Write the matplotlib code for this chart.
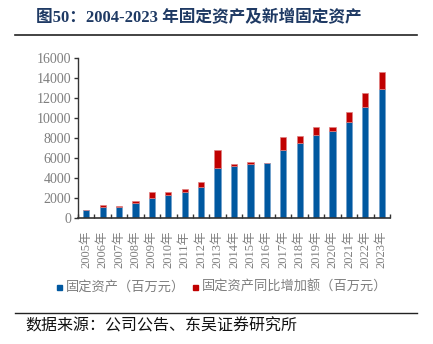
import matplotlib
matplotlib.use("Agg")
import matplotlib.pyplot as plt
from matplotlib.lines import Line2D
from matplotlib.patches import Rectangle

plt.rcParams['font.family'] = ['Liberation Serif', 'Noto Sans CJK SC', 'DejaVu Sans']

years = ['2005年', '2006年', '2007年', '2008年', '2009年', '2010年', '2011年', '2012年',
         '2013年', '2014年', '2015年', '2016年', '2017年', '2018年', '2019年', '2020年',
         '2021年', '2022年', '2023年']
fixed_assets = [850, 1060, 1100, 1500, 2000, 2300, 2560, 3100, 4960, 5160, 5360, 5460,
                6760, 7500, 8300, 8700, 9630, 11060, 12860]
yoy_increase = [0, 200, 150, 230, 630, 300, 300, 530, 1800, 270, 240, 30,
                1300, 660, 800, 360, 930, 1440, 1740]
yticks = [0, 2000, 4000, 6000, 8000, 10000, 12000, 14000, 16000]

blue = '#0058A0'
red = '#C00000'
gray = '#7F7F7F'

fig = plt.figure(figsize=(4.33, 3.44), dpi=100)
ax = fig.add_axes([78/433, 1-218/344, (390-78)/433, (218-58)/344])

x = list(range(len(years)))
ax.bar(x, fixed_assets, width=0.38, color=blue, edgecolor='#6F9FCC', linewidth=0.5)
ax.bar(x, yoy_increase, width=0.38, bottom=fixed_assets, color=red, edgecolor='#E08080', linewidth=0.5)

ax.set_xlim(-0.5, len(years) - 0.5)
ax.set_ylim(0, 16000)
ax.set_yticks(yticks)
ax.set_yticklabels([str(v) for v in yticks], color=gray, fontsize=10)
ax.set_xticks(x)
ax.set_xticklabels(years, rotation=90, color=gray, fontsize=9)
ax.tick_params(axis='x', length=0, pad=9)
ax.set_xticks([i - 0.5 for i in range(len(years) + 1)], minor=True)
ax.tick_params(axis='x', which='minor', direction='in', length=3, width=1, color='#333333')
ax.tick_params(axis='y', direction='out', length=3, width=1, color='#333333', pad=2)
for s in ['top', 'right']:
    ax.spines[s].set_visible(False)
ax.spines['left'].set_color('#333333')
ax.spines['bottom'].set_color('#333333')
ax.spines['left'].set_linewidth(1)
ax.spines['bottom'].set_linewidth(1.2)

# title
fig.text(36/433, 1-18/344, '图50：2004-2023 年固定资产及新增固定资产', fontsize=12,
         fontweight='bold', color='#1F3A64', va='center', ha='left')
fig.add_artist(Line2D([15/433, 417/433], [1-35/344, 1-35/344], color='#222222', lw=1.2))
fig.add_artist(Line2D([15/433, 417/433], [1-313/344, 1-313/344], color='#222222', lw=1.0))

# legend
fig.add_artist(Rectangle((57/433, 1-290/344), 5/433, 5/344, color=blue))
fig.text(66/433, 1-287/344, '固定资产（百万元）', fontsize=9.5, color=gray, va='center')
fig.add_artist(Rectangle((193/433, 1-290/344), 5/433, 5/344, color=red))
fig.text(202/433, 1-287/344, '固定资产同比增加额（百万元）', fontsize=9.5, color=gray, va='center')

fig.text(25/433, 1-327/344, '数据来源：公司公告、东吴证券研究所', fontsize=11.5, color='#111111', va='center')

fig.savefig('out.png', dpi=100)
